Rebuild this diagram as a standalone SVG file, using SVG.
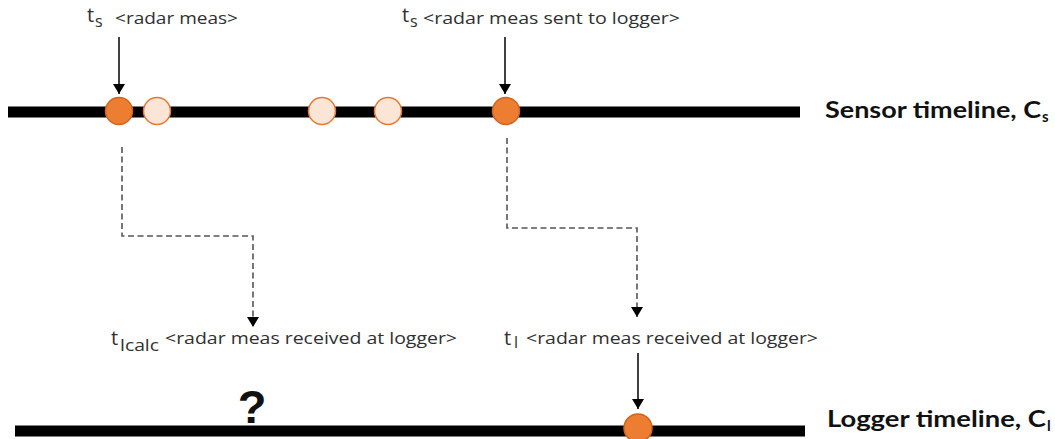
<svg xmlns="http://www.w3.org/2000/svg" width="1055" height="439" viewBox="0 0 1055 439">
  <style>
    .timeline { stroke: #000; stroke-width: 11; fill: none; }
    .evt { fill: #ED7D31; stroke: #D0661E; stroke-width: 1.5; }
    .evt-pale { fill: #FBE5D6; stroke: #E07A36; stroke-width: 1.5; }
    .ptr { stroke: #000; stroke-width: 1.5; fill: none; marker-end: url(#head); }
    .flow { stroke: #555; stroke-width: 1.6; stroke-dasharray: 6 3.5; fill: none; marker-end: url(#head); }
    .lbl { font-family: "Open Sans", "DejaVu Sans", sans-serif; font-size: 16px; fill: #303030; }
    .t { font-size: 20px; }
    .sub { font-size: 16px; }
    .axis { font-family: Lato, "Liberation Sans", sans-serif; font-weight: bold; font-size: 22px; fill: #111; }
    .axis-sub { font-size: 15px; }
    .q { font-family: "Liberation Sans", sans-serif; font-weight: bold; font-size: 47px; fill: #111; }
  </style>
  <defs>
    <marker id="head" viewBox="0 0 10 12" refX="10" refY="6" markerWidth="10" markerHeight="12" markerUnits="userSpaceOnUse" orient="auto">
      <path d="M0,0 L10,6 L0,12 Z" fill="#000"/>
    </marker>
  </defs>

  <rect width="1055" height="439" fill="#fff"/>

  <!-- timelines -->
  <g id="sensor-timeline">
    <line class="timeline" x1="8" y1="112" x2="800" y2="112"/>
    <text class="axis" x="825" y="118" textLength="216" lengthAdjust="spacingAndGlyphs">Sensor timeline, C</text>
    <text class="axis axis-sub" x="1042" y="122">s</text>
  </g>
  <g id="logger-timeline">
    <line class="timeline" x1="15" y1="431" x2="805" y2="431"/>
    <text class="axis" x="827" y="427" textLength="219" lengthAdjust="spacingAndGlyphs">Logger timeline, C</text>
    <text class="axis axis-sub" x="1047" y="431">l</text>
    <text class="q" x="252" y="423" text-anchor="middle">?</text>
  </g>

  <!-- sensor events -->
  <g id="meas-event">
    <circle class="evt" cx="119" cy="111" r="13.5"/>
  </g>
  <g id="sample-events">
    <circle class="evt-pale" cx="157" cy="111" r="13.5"/>
    <circle class="evt-pale" cx="322" cy="111" r="13.5"/>
    <circle class="evt-pale" cx="388" cy="111" r="13.5"/>
  </g>
  <g id="sent-event">
    <circle class="evt" cx="506" cy="111" r="13.5"/>
  </g>
  <g id="received-event">
    <circle class="evt" cx="638" cy="428" r="14"/>
  </g>

  <!-- labels -->
  <g id="label-meas">
    <text class="lbl t" x="87" y="22">t</text>
    <text class="lbl sub" x="95" y="27">s</text>
    <text class="lbl" x="115" y="24" textLength="123" lengthAdjust="spacingAndGlyphs">&lt;radar meas&gt;</text>
  </g>
  <g id="label-sent">
    <text class="lbl t" x="402" y="22">t</text>
    <text class="lbl sub" x="410" y="27">s</text>
    <text class="lbl" x="423" y="24" textLength="257" lengthAdjust="spacingAndGlyphs">&lt;radar meas sent to logger&gt;</text>
  </g>
  <g id="label-calc">
    <text class="lbl t" x="111" y="345">t</text>
    <text class="lbl sub" x="120" y="351" textLength="39" lengthAdjust="spacingAndGlyphs">lcalc</text>
    <text class="lbl" x="165" y="344" textLength="292" lengthAdjust="spacingAndGlyphs">&lt;radar meas received at logger&gt;</text>
  </g>
  <g id="label-received">
    <text class="lbl t" x="504" y="345">t</text>
    <text class="lbl sub" x="514" y="348">l</text>
    <text class="lbl" x="526" y="344" textLength="292" lengthAdjust="spacingAndGlyphs">&lt;radar meas received at logger&gt;</text>
  </g>

  <!-- connectors -->
  <g id="connectors">
    <line class="ptr" x1="119" y1="37" x2="119" y2="94"/>
    <line class="ptr" x1="505" y1="37" x2="505" y2="94"/>
    <line class="ptr" x1="638" y1="353" x2="638" y2="409"/>
    <polyline class="flow" points="122,147 122,236 253,236 253,327"/>
    <polyline class="flow" points="507,138 507,228 637,228 637,317"/>
  </g>
</svg>
